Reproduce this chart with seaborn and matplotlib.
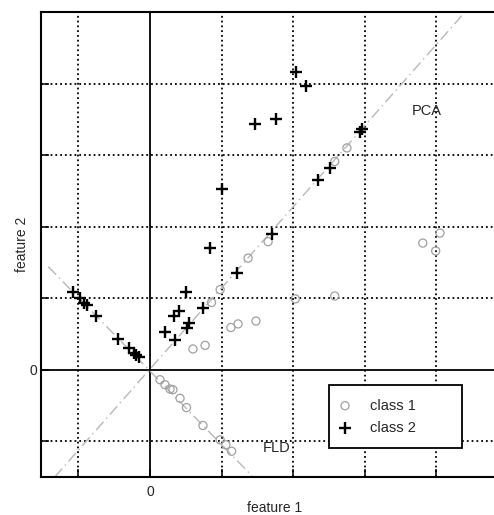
import numpy as np
import pandas as pd
import seaborn as sns
import matplotlib.pyplot as plt

# class 1 points (open grey circles)
c1_x = [0.60, 0.77, 1.13, 1.23, 1.48, 0.86, 0.98, 1.37, 1.65, 2.58, 2.75, 2.03, 2.58, 3.81, 4.05, 3.99,
        0.14, 0.21, 0.28, 0.32, 0.42, 0.51, 0.74, 0.98, 1.06, 1.14]
c1_y = [0.29, 0.34, 0.59, 0.64, 0.68, 0.94, 1.12, 1.56, 1.79, 2.91, 3.10, 0.99, 1.03, 1.77, 1.91, 1.66,
        -0.14, -0.21, -0.27, -0.28, -0.40, -0.53, -0.78, -0.98, -1.05, -1.14]

# class 2 points (black plus)
c2_x = [-1.07, -0.98, -0.92, -0.88, -0.75, -0.44, -0.29, -0.22, -0.19, -0.15,
        0.21, 0.35, 0.34, 0.40, 0.52, 0.55, 0.50, 0.74, 0.84, 1.00, 1.22, 1.70,
        1.47, 1.76, 2.04, 2.18, 2.35, 2.51, 2.93, 2.96]
c2_y = [1.08, 1.00, 0.93, 0.91, 0.75, 0.43, 0.30, 0.24, 0.20, 0.18,
        0.53, 0.42, 0.75, 0.82, 0.58, 0.65, 1.08, 0.86, 1.70, 2.52, 1.35, 1.89,
        3.44, 3.50, 4.16, 3.97, 2.65, 2.82, 3.32, 3.36]

# projection directions
pca_x = [-1.33, 4.40]
pca_y = [-1.50, 5.00]
fld_x = [-1.42, 1.44]
fld_y = [1.44, -1.50]

ticks_x = [-1, 0, 1, 2, 3, 4, 5]
ticks_y = [-1, 0, 1, 2, 3, 4]

df = pd.DataFrame({
    'feature 1': c1_x + c2_x,
    'feature 2': c1_y + c2_y,
    'cls': ['class 1'] * len(c1_x) + ['class 2'] * len(c2_x),
})

sns.set_style('white')
plt.rcParams['font.family'] = ['Liberation Sans', 'DejaVu Sans']

fig = plt.figure(figsize=(4.94, 5.15), dpi=100)
# axes runs a bit past the right edge (the original was cropped there)
ax = fig.add_axes([41 / 494, 38 / 515, 467 / 494, 465 / 515])

# grid + zero lines
for t in ticks_x:
    if t != 0:
        ax.axvline(t, color='black', ls=':', lw=1.3, zorder=1)
for t in ticks_y:
    if t != 0:
        ax.axhline(t, color='black', ls=':', lw=1.3, zorder=1)
ax.axvline(0, color='black', lw=1.3, zorder=1)
ax.axhline(0, color='black', lw=1.3, zorder=1)

ax.plot(pca_x, pca_y, color='#b8b8b8', lw=1.0, ls=(0, (8, 3, 1, 3)), zorder=2)
ax.plot(fld_x, fld_y, color='#b8b8b8', lw=1.0, ls=(0, (8, 3, 1, 3)), zorder=2)

d1 = df[df.cls == 'class 1']
d2 = df[df.cls == 'class 2']
sns.scatterplot(data=d1, x='feature 1', y='feature 2', marker='o', s=34,
                facecolors='none', edgecolor='#a0a0a0', linewidth=0.9,
                label='class 1', ax=ax, zorder=3)
sns.scatterplot(data=d2, x='feature 1', y='feature 2', marker='+', s=85,
                color='black', linewidth=1.7, label='class 2', ax=ax, zorder=4)

ax.set_xlim(-1.522, 5.0)
ax.set_ylim(-1.5, 5.0)

ax.set_xticks(ticks_x)
ax.set_xticklabels(['0' if t == 0 else '' for t in ticks_x])
ax.set_yticks(ticks_y)
ax.set_yticklabels(['0' if t == 0 else '' for t in ticks_y])
ax.tick_params(direction='in', length=6, width=1.3, labelsize=10,
               bottom=True, left=True, top=False, right=False, pad=3)
ax.tick_params(axis='x', pad=6)

for s in ax.spines.values():
    s.set_color('black')
    s.set_linewidth(1.5)

ax.set_xlabel('feature 1', fontsize=10, labelpad=1)
ax.set_ylabel('feature 2', fontsize=10, labelpad=0)

ax.text(3.87, 3.61, 'PCA', fontsize=10.5, ha='center', va='center')
ax.text(1.77, -1.09, 'FLD', fontsize=10.5, ha='center', va='center')

leg = ax.legend(loc='upper left', bbox_to_anchor=(2.5, -1.13, 1.86, 0.91),
                bbox_transform=ax.transData, mode='expand', borderaxespad=0,
                fontsize=10.5, frameon=True, fancybox=False, framealpha=1,
                borderpad=0.9, labelspacing=0.6, handlelength=0.4,
                handletextpad=1.5, scatterpoints=1)
leg.get_frame().set_edgecolor('black')
leg.get_frame().set_linewidth(1.3)

fig.savefig('out.png', dpi=100)
